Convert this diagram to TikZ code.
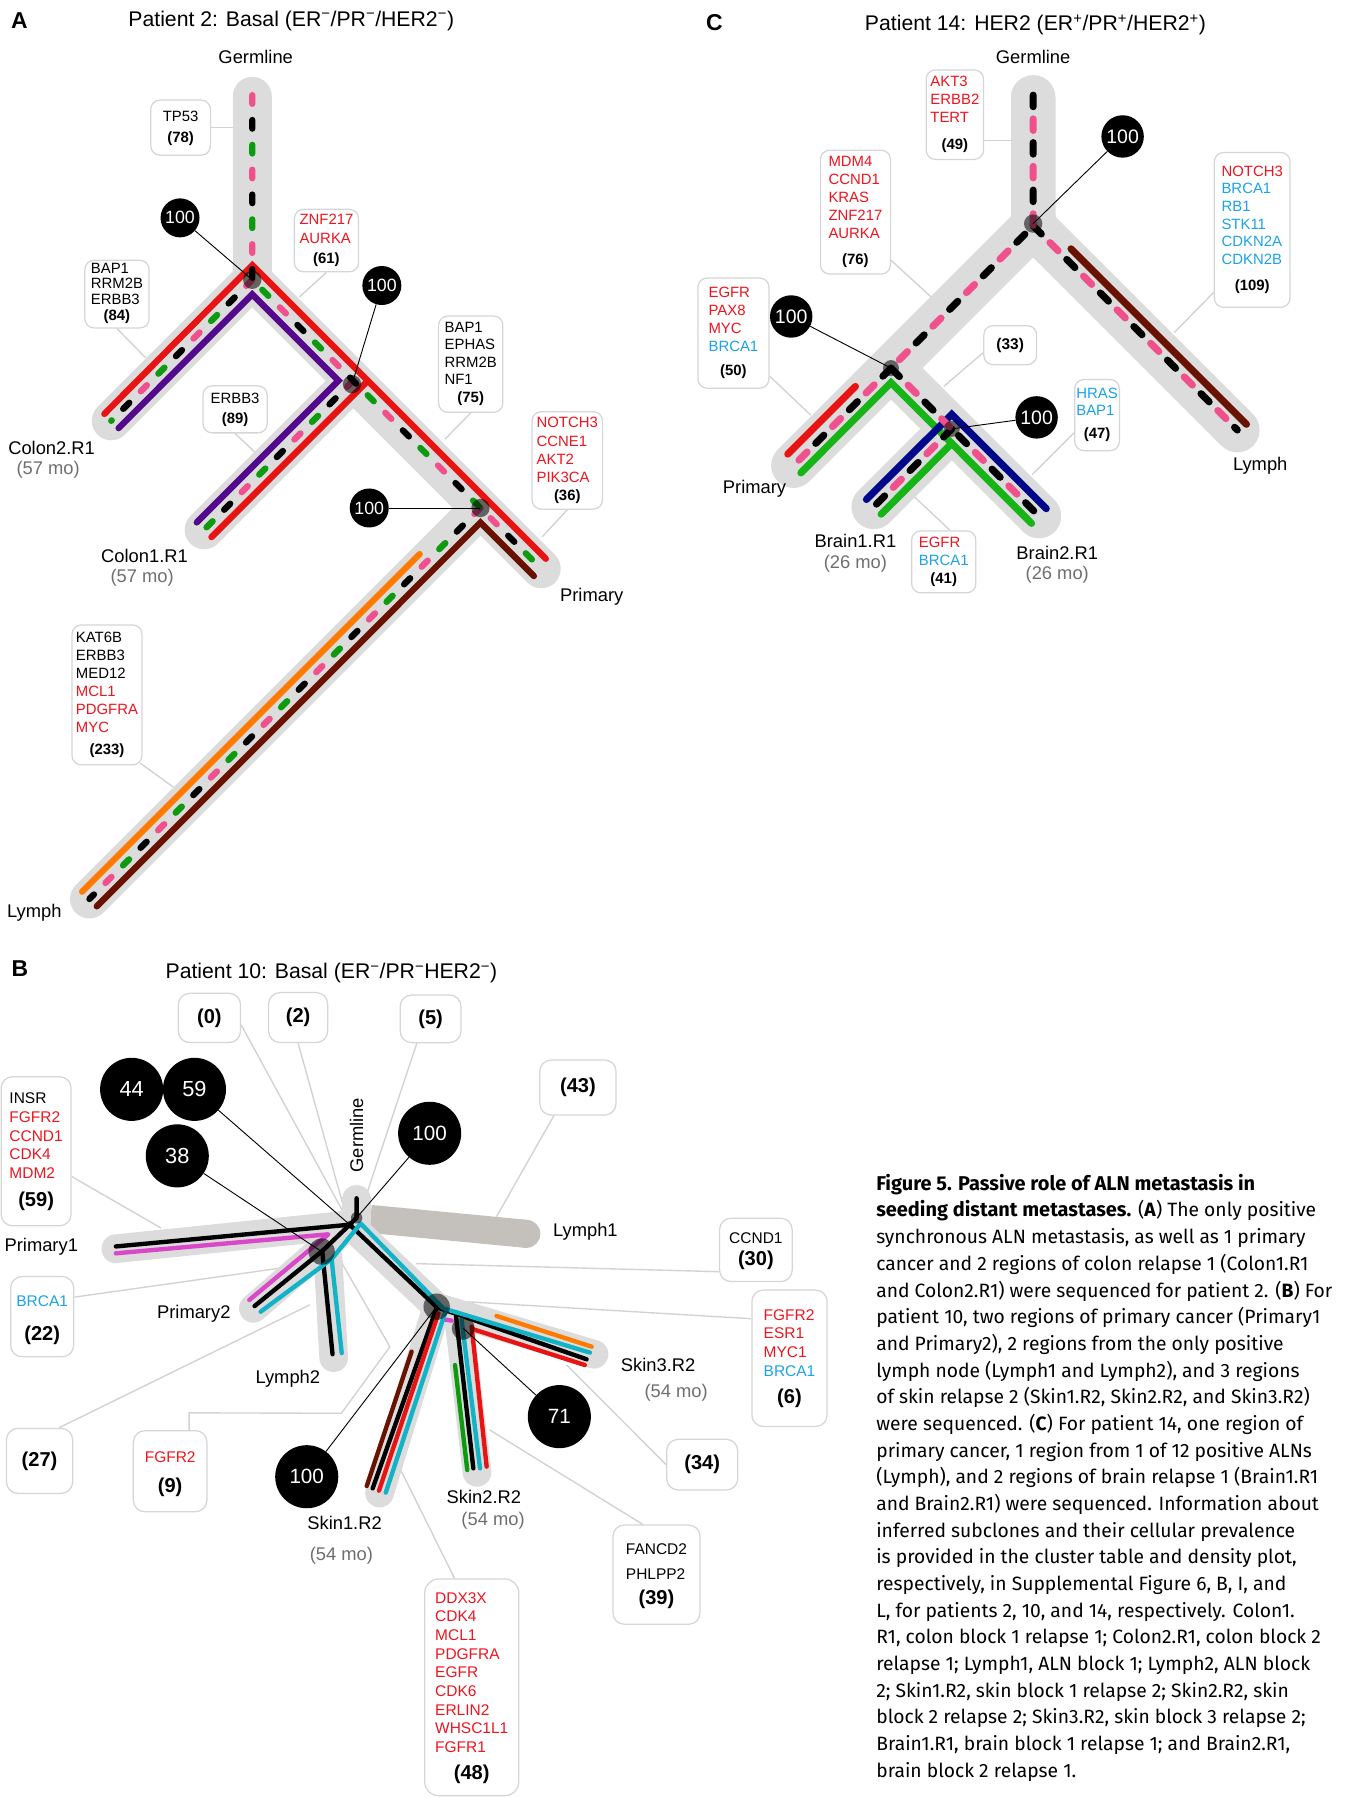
\documentclass[tikz,border=0pt]{standalone}
\usepackage{fontspec}
\setmainfont{Liberation Sans}
\newfontfamily\capfont{Fira Sans}
\usetikzlibrary{calc}
\definecolor{bandgray}{HTML}{DCDCDC}
\definecolor{lymgray}{HTML}{C4C0BC}
\definecolor{conngray}{HTML}{D2D2D2}
\definecolor{boxgray}{HTML}{D6D6D6}
\definecolor{lred}{HTML}{E81414}
\definecolor{lpink}{HTML}{F0508C}
\definecolor{lgreen}{HTML}{0E9A0E}
\definecolor{lgreenC}{HTML}{16B416}
\definecolor{lpurple}{HTML}{54088C}
\definecolor{lorange}{HTML}{FF7A00}
\definecolor{lbrown}{HTML}{6A1200}
\definecolor{lnavy}{HTML}{00088A}
\definecolor{lcyan}{HTML}{12B3C6}
\definecolor{lmag}{HTML}{D848C8}
\definecolor{genered}{HTML}{F0141E}
\definecolor{geneblue}{HTML}{1AA3E8}
\definecolor{mogray}{HTML}{6E6E6E}
\pgfdeclarelayer{bg}
\pgfsetlayers{bg,main}
\newcommand{\rd}[1]{\textcolor{genered}{#1}}
\newcommand{\bu}[1]{\textcolor{geneblue}{#1}}
\newcommand{\gtab}[3]{\fontsize{#1}{#2}\selectfont\begin{tabular}{@{}l@{}}#3\end{tabular}}
\newcommand{\cnt}[1]{\multicolumn{1}{@{}c@{}}{\bfseries #1}}
\newcommand{\bigc}{\fontsize{17.5}{20}\selectfont}
\newcommand{\capb}[1]{{\bfseries\fontsize{17.4}{20}\selectfont #1}}
\begin{document}
\begin{tikzpicture}[x=1pt,y=-1pt,
  bandA/.style={line width=34pt,line cap=round,line join=round,draw=bandgray},
  bandC/.style={line width=39pt,line cap=round,line join=round,draw=bandgray},
  bandB/.style={line width=25pt,line cap=round,line join=round,draw=bandgray},
  lnA/.style={line width=5.5pt,line cap=round,line join=miter},
  lnC/.style={line width=6.2pt,line cap=round,line join=miter},
  lnB/.style={line width=3.8pt,line cap=round,line join=round},
  dashA/.style={line width=5.5pt,line cap=round,dash pattern=on 7.5pt off 57.5pt},
  dashC/.style={line width=6.2pt,line cap=round,dash pattern=on 10pt off 31.4pt},
  ndot/.style={circle,fill=black,fill opacity=0.55,inner sep=0pt,minimum size=#1},
  numc/.style={circle,fill=black,text=white,inner sep=0pt,minimum size=#1},
  pinl/.style={draw=black,line width=0.8pt},
  lbox/.style={draw=boxgray,line width=1.1pt,rounded corners=8pt,fill=white,inner sep=0pt},
  conn/.style={draw=conngray,line width=1.2pt},
  lab/.style={inner sep=0pt,font=\fontsize{16}{18}\selectfont},
  mo/.style={inner sep=0pt,text=mogray,font=\fontsize{16}{18}\selectfont},
  ttl/.style={inner sep=0pt,font=\fontsize{18.5}{20}\selectfont},
  plab/.style={inner sep=0pt,font=\bfseries\fontsize{20}{22}\selectfont},
  captxt/.style={inner sep=0pt,anchor=base west,font=\capfont\fontsize{16.8}{20}\selectfont}
]
\useasboundingbox (0,0) rectangle (1179,1568);

%%%%%%%%%%%%%%%% PANEL A
\node[plab] (lA) at (17,18) {A};
\node[ttl] (tA) at (254,18) {Patient 2: Basal (ER\textsuperscript{−}/PR\textsuperscript{−}/HER2\textsuperscript{−})};
\node[lab] (aGerm) at (223,50) {Germline};

\coordinate (aJ1) at (220,244);
\coordinate (aJ2) at (308,332);
\coordinate (aJ3) at (419,443);
\coordinate (aPr) at (472,496);
\coordinate (aLy) at (78,784);
\coordinate (aC2) at (97,367);
\coordinate (aC1) at (178,462);

\draw[bandA] (220,84) -- (aJ1) -- (aJ2) -- (aJ3) -- (aPr);
\draw[bandA] (aJ1) -- (aC2);
\draw[bandA] (aJ2) -- (aC1);
\draw[bandA] (aJ3) -- (aLy);

\draw[lnA,lred] (91,361) -- (220,231.3) -- (476,487.3);
\draw[lnA,lred] (184.4,468.4) -- (320.8,332);
\draw[lnA,lpurple] (103.4,373.4) -- (220,256.7) -- (295.2,331.9) -- (171.6,455.6);
\draw[lnA,lbrown] (84.4,790.4) -- (419,455.7) -- (465.6,502.4);
\draw[lnA,lorange] (71.6,777.6) -- (366,483.2);

\foreach \cc/\ph in {lpink/0,black/43.33,lgreen/21.67}{
  \draw[dashA,draw=\cc,dash phase=\ph pt] (220,83) -- (aJ1) -- (aJ2) -- (aJ3) -- (aPr);
  \draw[dashA,draw=\cc,dash phase=\ph pt] (aJ1) -- (aC2);
  \draw[dashA,draw=\cc,dash phase=\ph pt] (aJ2) -- (aC1);
  \draw[dashA,draw=\cc,dash phase=\ph pt] (aJ3) -- (aLy);
}

\node[ndot=16pt] (aD1) at (aJ1) {};
\node[ndot=16pt] (aD2) at (307,335) {};
\node[ndot=16pt] (aD3) at (aJ3) {};

\node[numc=34pt,font=\fontsize{15.5}{16}\selectfont] (aN1) at (157,190) {100};
\node[numc=34pt,font=\fontsize{15.5}{16}\selectfont] (aN2) at (333,249) {100};
\node[numc=34pt,font=\fontsize{15.5}{16}\selectfont] (aN3) at (322,443) {100};
\draw[pinl] (aN1) -- (aD1.center);
\draw[pinl] (aN2) -- (aD2.center);
\draw[pinl] (aN3) -- (aD3.center);

\node[lbox,minimum width=52pt,minimum height=48pt] (bxA1) at (157.5,111.3) {\gtab{13}{18}{TP53\\\cnt{(78)}}};
\node[lbox,minimum width=56pt,minimum height=54.5pt] (bxA2) at (284.7,209.8) {\gtab{13}{16}{\rd{ZNF217}\\\rd{AURKA}\\[2pt]\cnt{(61)}}};
\node[lbox,minimum width=56pt,minimum height=59pt] (bxA3) at (102,256.5) {\gtab{13}{13.3}{BAP1\\RRM2B\\ERBB3\\[1pt]\cnt{(84)}}};
\node[lbox,minimum width=56pt,minimum height=41pt] (bxA4) at (205,357) {\gtab{13}{18}{ERBB3\\\cnt{(89)}}};
\node[lbox,minimum width=56pt,minimum height=84pt] (bxA5) at (410.5,317.6) {\gtab{13}{15}{BAP1\\EPHAS\\RRM2B\\NF1\\[1pt]\cnt{(75)}}};
\node[lbox,minimum width=61.4pt,minimum height=85pt] (bxA6) at (494.7,401.5) {\gtab{13}{16}{\rd{NOTCH3}\\\rd{CCNE1}\\\rd{AKT2}\\\rd{PIK3CA}\\[-1pt]\cnt{(36)}}};
\node[lbox,minimum width=61pt,minimum height=122pt] (bxA7) at (93.3,606) {\gtab{13}{15.6}{KAT6B\\ERBB3\\MED12\\\rd{MCL1}\\\rd{PDGFRA}\\\rd{MYC}\\[3.5pt]\cnt{(233)}}};

\coordinate (aK1) at (203,111.3);
\coordinate (aK2) at (261,259);
\coordinate (aK3) at (127,312);
\coordinate (aK4) at (222,394);
\coordinate (aK5) at (388,383);
\coordinate (aK6) at (473,468);
\coordinate (aK7) at (152,687);
\begin{pgfonlayer}{bg}
\draw[conn] (bxA1.east) -- (aK1);
\draw[conn] (bxA2.south) -- (aK2);
\draw[conn] (bxA3.south) -- (aK3);
\draw[conn] (bxA4.south) -- (aK4);
\draw[conn] (bxA5.south) -- (aK5);
\draw[conn] (bxA6.south) -- (aK6);
\draw[conn] ([xshift=-2pt,yshift=2pt]bxA7.south east) -- (aK7);
\end{pgfonlayer}

\node[lab] (aC2l) at (45,391) {Colon2.R1};
\node[mo] (aC2m) at (42,410) {(57 mo)};
\node[lab] (aC1l) at (126,485) {Colon1.R1};
\node[mo] (aC1m) at (124,504) {(57 mo)};
\node[lab] (aPrl) at (516,520) {Primary};
\node[lab] (aLyl) at (30,796) {Lymph};

%%%%%%%%%%%%%%%% PANEL C
\node[plab] (lC) at (623,20) {C};
\node[ttl] (tC) at (903,22) {Patient 14: HER2 (ER\textsuperscript{+}/PR\textsuperscript{+}/HER2\textsuperscript{+})};
\node[lab] (cGerm) at (901,50) {Germline};

\coordinate (cJ1) at (901,197);
\coordinate (cJP) at (777,321);
\coordinate (cJB) at (830,374);
\coordinate (cLy) at (1079,375);
\coordinate (cPr) at (692,406);
\coordinate (cB1) at (762,442);
\coordinate (cB2) at (906,450);

\draw[bandC] (901,85) -- (cJ1) -- (cLy);
\draw[bandC] (cJ1) -- (cJP) -- (cPr);
\draw[bandC] (cJP) -- (cJB) -- (cB2);
\draw[bandC] (cJB) -- (cB1);

\draw[lnC,lbrown] (934,217) -- (1087,370);
\draw[lnC,lred] (746,337) -- (687,396);
\draw[lnC,lgreenC] (698.4,412.4) -- (777,333.7) -- (899.6,456.4);
\draw[lnC,lgreenC] (830,386.7) -- (768.4,448.4);
\draw[lnC,lnavy] (755.6,435.6) -- (830,361.3) -- (912.4,443.6);

\foreach \cc/\ph in {black/0,lpink/20.7}{
  \draw[dashC,draw=\cc,dash phase=\ph pt] (901,83) -- (cJ1) -- (cJP) -- (cJB) -- (cB2);
  \draw[dashC,draw=\cc,dash phase=\ph pt] (cJ1) -- (cLy);
  \draw[dashC,draw=\cc,dash phase=\ph pt] (cJP) -- (cPr);
  \draw[dashC,draw=\cc,dash phase=\ph pt] (cJB) -- (cB1);
}

\node[ndot=16pt] (cD1) at (901,195) {};
\node[ndot=14pt] (cD2) at (cJP) {};
\node[ndot=14pt] (cD3) at (cJB) {};

\node[numc=37pt,font=\fontsize{17}{18}\selectfont] (cN1) at (979,119) {100};
\node[numc=37pt,font=\fontsize{17}{18}\selectfont] (cN2) at (690,276) {100};
\node[numc=37pt,font=\fontsize{17}{18}\selectfont] (cN3) at (904,364) {100};
\draw[pinl] (cN1) -- (cD1.center);
\draw[pinl] (cN2) -- (cD2.center);
\draw[pinl] (cN3) -- (cD3.center);

\node[lbox,minimum width=50pt,minimum height=78pt] (bxC1) at (832.7,100) {\gtab{13}{15.5}{\rd{AKT3}\\\rd{ERBB2}\\\rd{TERT}\\[8.5pt]\cnt{(49)}}};
\node[lbox,minimum width=61pt,minimum height=108pt] (bxC2) at (746,185) {\gtab{13}{15.5}{\rd{MDM4}\\\rd{CCND1}\\\rd{KRAS}\\\rd{ZNF217}\\\rd{AURKA}\\[7.5pt]\cnt{(76)}}};
\node[lbox,minimum width=62pt,minimum height=96pt] (bxC3) at (639.6,290.5) {\gtab{13}{15.7}{\rd{EGFR}\\\rd{PAX8}\\\rd{MYC}\\\bu{BRCA1}\\[5.5pt]\cnt{(50)}}};
\node[lbox,minimum width=46pt,minimum height=34pt,font=\bfseries\fontsize{13.5}{16}\selectfont] (bxC4) at (881,301) {(33)};
\node[lbox,minimum width=66pt,minimum height=135pt] (bxC5) at (1092,200.5) {\gtab{13}{15.4}{\rd{NOTCH3}\\\bu{BRCA1}\\\bu{RB1}\\\bu{STK11}\\\bu{CDKN2A}\\\bu{CDKN2B}\\[7.6pt]\cnt{(109)}}};
\node[lbox,minimum width=39pt,minimum height=62pt] (bxC6) at (956.7,362) {\gtab{13}{15}{\bu{HRAS}\\\bu{BAP1}\\[5pt]\cnt{(47)}}};
\node[lbox,minimum width=56pt,minimum height=54pt] (bxC7) at (823,490) {\gtab{13}{16}{\rd{EGFR}\\\bu{BRCA1}\\\cnt{(41)}}};

\coordinate (cK1) at (883,122.5);
\coordinate (cK2) at (812,259);
\coordinate (cK3) at (707,362);
\coordinate (cK4) at (823,337);
\coordinate (cK5) at (1024,290);
\coordinate (cK6) at (900,414);
\coordinate (cK7) at (795,431);
\begin{pgfonlayer}{bg}
\draw[conn] ([yshift=-22.5pt]bxC1.east) -- (cK1);
\draw[conn] ([yshift=-42pt]bxC2.east) -- (cK2);
\draw[conn] ([yshift=-37.5pt]bxC3.east) -- (cK3);
\draw[conn] ([yshift=-6.5pt]bxC4.west) -- (cK4);
\draw[conn] ([yshift=-54.5pt]bxC5.west) -- (cK5);
\draw[conn] ([yshift=-15.5pt]bxC6.west) -- (cK6);
\draw[conn] ([xshift=5.5pt]bxC7.north) -- (cK7);
\end{pgfonlayer}

\node[lab] (cPrl) at (658,426) {Primary};
\node[lab] (cB1l) at (746,471.5) {Brain1.R1};
\node[mo] (cB1m) at (746,491.5) {(26 mo)};
\node[lab] (cB2l) at (922,482) {Brain2.R1};
\node[mo] (cB2m) at (922,501.5) {(26 mo)};
\node[lab] (cLyl) at (1099,406.5) {Lymph};

%%%%%%%%%%%%%%%% PANEL B
\node[plab] (lB) at (17.3,844.4) {B};
\node[ttl] (tB) at (289,848.8) {Patient 10: Basal (ER\textsuperscript{−}/PR\textsuperscript{−}HER2\textsuperscript{−})};
\node[lab,rotate=90] (bGerm) at (311,990) {Germline};

\coordinate (bGT) at (311,1045);
\coordinate (bN0) at (311,1062);
\coordinate (bN1) at (305,1068);
\coordinate (bN2) at (281,1091);
\coordinate (bN3) at (381,1140);
\coordinate (bN4) at (405,1157);

\draw[line width=24.5pt,draw=lymgray,line cap=butt] (323,1063) -- (459,1076);
\fill[lymgray] (459,1076) circle (12.25);

\draw[bandB] (311,1046) -- (311,1064);
\draw[bandB] (bN1) -- (101,1089);
\draw[bandB] (bN1) -- (221,1141);
\draw[bandB] (286,1096) -- (291,1184);
\draw[bandB] (bN1) -- (bN3);
\draw[bandB] (bN3) -- (518,1181);
\draw[bandB] (400,1150) -- (416,1284);
\draw[bandB] (bN3) -- (331,1302);

\draw[lnB,black] (bGT) -- (bN0) -- (bN1);
\draw[lnB,black] (bN1) -- (101,1087);
\draw[lnB,black] (bN1) -- (bN2) -- (222,1139);
\draw[lnB,black] (bN2) -- (290,1181);
\draw[lnB,black] (bN1) -- (bN3) -- (511.6,1185.4);
\draw[lnB,black] (bN3) -- (325,1298);
\draw[lnB,black] (397.7,1148.2) -- (412.8,1280.5);
\draw[lnB,lmag] (101,1093) -- (286.3,1076.4) -- (217.4,1133.7);
\draw[lnB,lmag] (386.6,1150.5) -- (393.9,1151.7);
\draw[lnB,lcyan] (314.5,1067) -- (289.2,1098) -- (227.3,1143.9);
\draw[lnB,lcyan] (289.2,1098) -- (298,1180);
\draw[lnB,lcyan] (315,1067.5) -- (386.6,1141) -- (514.5,1179.6);
\draw[lnB,lcyan] (388,1145.3) -- (336.4,1301.7);
\draw[lnB,lcyan] (402.6,1151) -- (418.6,1280.5);
\draw[lnB,lred] (412,1159) -- (510,1190.4);
\draw[lnB,lred] (382.3,1145.3) -- (330.5,1300);
\draw[lnB,lred] (411.3,1157) -- (424.4,1279);
\draw[lnB,lorange] (433,1147.6) -- (516,1174.4);
\draw[lnB,lgreen] (396.8,1190.4) -- (407.5,1282);
\draw[lnB,lbrown] (359,1178.7) -- (319.8,1295.9);

\node[ndot=10pt] (bD0) at (bN0) {};
\node[ndot=7pt] (bD1) at (bN1) {};
\node[ndot=23pt] (bD2) at (280.5,1091.5) {};
\node[ndot=23pt] (bD3) at (380.8,1139.5) {};
\node[ndot=20pt] (bD4) at (404,1158.4) {};

\node[numc=55pt,font=\fontsize{19}{20}\selectfont] (b44) at (114.8,950) {44};
\node[numc=55pt,font=\fontsize{19}{20}\selectfont] (b59) at (169.6,950) {59};
\node[numc=55pt,font=\fontsize{19}{20}\selectfont] (b38) at (154.6,1008) {38};
\node[numc=55pt,font=\fontsize{18}{20}\selectfont] (b100a) at (374.7,988.3) {100};
\node[numc=55pt,font=\fontsize{18}{20}\selectfont] (b100b) at (267.5,1287.8) {100};
\node[numc=55pt,font=\fontsize{18}{20}\selectfont] (b71) at (487.8,1235.4) {71};
\draw[pinl] (b59) -- (bD1.center);
\draw[pinl] (b38) -- (bD2.center);
\draw[pinl] (b100a) -- (bD0.center);
\draw[pinl] (b100b) -- (bD3.center);
\draw[pinl] (b71) -- (bD4.center);

\node[lbox,rounded corners=10pt,minimum width=54.3pt,minimum height=43pt,font=\bfseries\bigc] (bx0) at (182.6,887.7) {(0)};
\node[lbox,rounded corners=10pt,minimum width=51.5pt,minimum height=43.6pt,font=\bfseries\bigc] (bx2) at (260,887.4) {(2)};
\node[lbox,rounded corners=10pt,minimum width=53pt,minimum height=41.5pt,font=\bfseries\bigc] (bx5) at (375.5,888.5) {(5)};
\node[lbox,rounded corners=10pt,minimum width=66.5pt,minimum height=48pt,font=\bfseries\bigc] (bx43) at (504,948.4) {(43)};
\node[lbox,rounded corners=10pt,minimum width=61pt,minimum height=130pt] (bx59) at (31.5,1004) {\gtab{13.5}{16.3}{INSR\\\rd{FGFR2}\\\rd{CCND1}\\\rd{CDK4}\\\rd{MDM2}\\[6.7pt]\cnt{\bigc(59)}}};
\node[lbox,rounded corners=10pt,minimum width=55pt,minimum height=70pt] (bx22) at (36.8,1148.2) {\gtab{13.5}{29.6}{\bu{BRCA1}\\\cnt{\bigc(22)}}};
\node[lbox,rounded corners=10pt,minimum width=63.3pt,minimum height=55.3pt] (bx30) at (659.2,1090) {\gtab{13.5}{19.5}{CCND1\\\cnt{\bigc(30)}}};
\node[lbox,rounded corners=10pt,minimum width=65.6pt,minimum height=119pt] (bx6) at (688.5,1184.5) {\gtab{13.5}{16.3}{\rd{FGFR2}\\\rd{ESR1}\\\rd{MYC1}\\\bu{BRCA1}\\[6.7pt]\cnt{\bigc(6)}}};
\node[lbox,rounded corners=10pt,minimum width=57.7pt,minimum height=56.7pt,font=\bfseries\bigc] (bx27) at (34.5,1274) {(27)};
\node[lbox,rounded corners=10pt,minimum width=64.2pt,minimum height=70.7pt] (bx9) at (148.4,1283) {\gtab{13.5}{26}{\rd{FGFR2}\\\cnt{\bigc(9)}}};
\node[lbox,rounded corners=10pt,minimum width=62pt,minimum height=44.2pt,font=\bfseries\bigc] (bx34) at (612.4,1277.3) {(34)};
\node[lbox,rounded corners=10pt,minimum width=76pt,minimum height=86.6pt] (bx39) at (572.5,1373.2) {\gtab{13.5}{21.8}{FANCD2\\PHLPP2\\\cnt{\bigc(39)}}};
\node[lbox,rounded corners=12pt,minimum width=82pt,minimum height=189pt] (bx48) at (411.4,1471.5) {\gtab{13.5}{16.3}{\rd{DDX3X}\\\rd{CDK4}\\\rd{MCL1}\\\rd{PDGFRA}\\\rd{EGFR}\\\rd{CDK6}\\\rd{ERLIN2}\\\rd{WHSC1L1}\\\rd{FGFR1}\\[5.5pt]\cnt{\bigc(48)}}};

\coordinate (bK0) at (302,1062);
\coordinate (bK2) at (302,1061);
\coordinate (bK5) at (318.5,1045);
\coordinate (bK43) at (433,1061);
\coordinate (bK59) at (140.5,1071);
\coordinate (bK22) at (243.6,1106);
\coordinate (bK30) at (363,1102);
\coordinate (bK6) at (403,1135);
\coordinate (bK27) at (270,1138);
\coordinate (bK9a) at (297.7,1232.5);
\coordinate (bK9b) at (340,1174.5);
\coordinate (bK9c) at (295,1096);
\coordinate (bK34) at (494.2,1190.4);
\coordinate (bK39) at (427,1247);
\coordinate (bK48) at (349,1281);
\begin{pgfonlayer}{bg}
\draw[conn] ([yshift=-6pt]bx0.east) -- (bK0);
\draw[conn] (bx2.south) -- (bK2);
\draw[conn] ([xshift=-12pt]bx5.south) -- (bK5);
\draw[conn] ([xshift=-21pt]bx43.south) -- (bK43);
\draw[conn] ([yshift=-22pt]bx59.east) -- (bK59);
\draw[conn] ([yshift=17pt]bx22.east) -- (bK22);
\draw[conn] ([yshift=-19pt]bx30.west) -- (bK30);
\draw[conn] ([yshift=34.5pt]bx6.west) -- (bK6);
\draw[conn] ([xshift=17pt]bx27.north) -- (bK27);
\draw[conn] ([xshift=16.5pt]bx9.north) -- ++(0,-15) -- (bK9a) -- (bK9b) -- (bK9c);
\draw[conn] (bx34.west) -- (bK34);
\draw[conn] ([xshift=-12pt]bx39.north) -- (bK39);
\draw[conn] ([xshift=-15pt]bx48.north) -- (bK48);
\end{pgfonlayer}

\node[lab] (bP1l) at (36,1087) {Primary1};
\node[lab] (bP2l) at (169,1146) {Primary2};
\node[lab] (bL2l) at (251,1202.5) {Lymph2};
\node[lab] (bL1l) at (510.5,1074.5) {Lymph1};
\node[lab] (bS3l) at (574,1190) {Skin3.R2};
\node[mo] (bS3m) at (589.7,1215) {(54 mo)};
\node[lab] (bS2l) at (422,1305.5) {Skin2.R2};
\node[mo] (bS2m) at (430,1326) {(54 mo)};
\node[lab] (bS1l) at (300.5,1328.4) {Skin1.R2};
\node[mo] (bS1m) at (297.7,1357) {(54 mo)};

%%%%%%%%%%%%%%%% CAPTION
\node[captxt] (k1) at (764,1038.0) {\capb{Figure 5. Passive role of ALN metastasis in}};
\node[captxt] (k2) at (764,1061.3) {\capb{seeding distant metastases.} (\textbf{A}) The only positive};
\node[captxt] (k3) at (764,1084.5) {synchronous ALN metastasis, as well as 1 primary};
\node[captxt] (k4) at (764,1107.8) {cancer and 2 regions of colon relapse 1 (Colon1.R1};
\node[captxt] (k5) at (764,1131.1) {and Colon2.R1) were sequenced for patient 2. (\textbf{B}) For};
\node[captxt] (k6) at (764,1154.4) {patient 10, two regions of primary cancer (Primary1};
\node[captxt] (k7) at (764,1177.6) {and Primary2), 2 regions from the only positive};
\node[captxt] (k8) at (764,1200.9) {lymph node (Lymph1 and Lymph2), and 3 regions};
\node[captxt] (k9) at (764,1224.2) {of skin relapse 2 (Skin1.R2, Skin2.R2, and Skin3.R2)};
\node[captxt] (k10) at (764,1247.4) {were sequenced. (\textbf{C}) For patient 14, one region of};
\node[captxt] (k11) at (764,1270.7) {primary cancer, 1 region from 1 of 12 positive ALNs};
\node[captxt] (k12) at (764,1294.0) {(Lymph), and 2 regions of brain relapse 1 (Brain1.R1};
\node[captxt] (k13) at (764,1317.2) {and Brain2.R1) were sequenced. Information about};
\node[captxt] (k14) at (764,1340.5) {inferred subclones and their cellular prevalence};
\node[captxt] (k15) at (764,1363.8) {is provided in the cluster table and density plot,};
\node[captxt] (k16) at (764,1387.0) {respectively, in Supplemental Figure 6, B, I, and};
\node[captxt] (k17) at (764,1410.3) {L, for patients 2, 10, and 14, respectively. Colon1.};
\node[captxt] (k18) at (764,1433.6) {R1, colon block 1 relapse 1; Colon2.R1, colon block 2};
\node[captxt] (k19) at (764,1456.8) {relapse 1; Lymph1, ALN block 1; Lymph2, ALN block};
\node[captxt] (k20) at (764,1480.1) {2; Skin1.R2, skin block 1 relapse 2; Skin2.R2, skin};
\node[captxt] (k21) at (764,1503.4) {block 2 relapse 2; Skin3.R2, skin block 3 relapse 2;};
\node[captxt] (k22) at (764,1526.6) {Brain1.R1, brain block 1 relapse 1; and Brain2.R1,};
\node[captxt] (k23) at (764,1549.9) {brain block 2 relapse 1.};
\end{tikzpicture}
\end{document}
